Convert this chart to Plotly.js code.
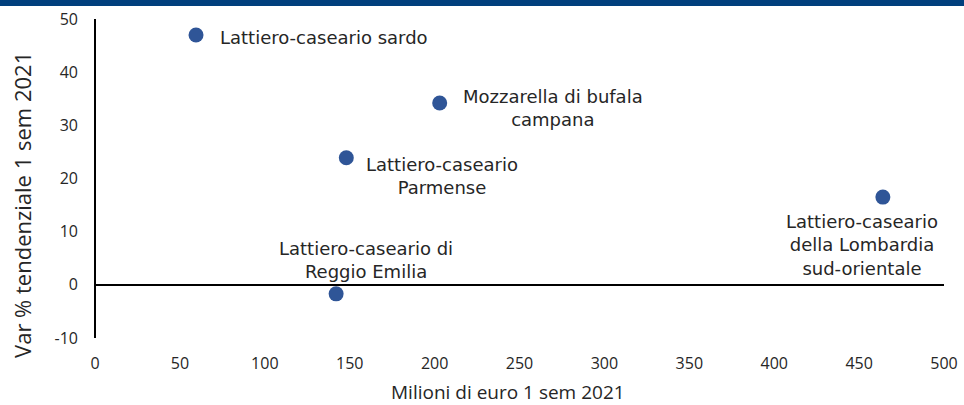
<!DOCTYPE html>
<html>
<head>
<meta charset="utf-8">
<script src="https://cdn.plot.ly/plotly-3.0.1.min.js"></script>
<style>
  html, body { margin: 0; padding: 0; background: #fff; }
  #bar { position: absolute; left: 0; top: 0; width: 964px; height: 6px; background: #013f7d; z-index: 10; }
  #chart { width: 964px; height: 405px; }
</style>
</head>
<body>
<div id="bar"></div>
<div id="chart"></div>
<script>
(function () {
    // Dati: fatturato (milioni di euro) e variazione % tendenziale, 1 sem 2021
    const distretti = [
        'Lattiero-caseario sardo',
        'Mozzarella di bufala<br>campana',
        'Lattiero-caseario<br>Parmense',
        'Lattiero-caseario di<br>Reggio Emilia',
        'Lattiero-caseario<br>della Lombardia<br>sud-orientale'
    ];
    const milioni = [59.5, 203, 148, 142, 464];
    const varPerc = [47.0, 34.2, 23.9, -1.7, 16.5];

    // tacche asse y (con trattino semplice come nell'originale)
    const yTickVals = [-10, 0, 10, 20, 30, 40, 50];
    const yTickText = ['-10', '0', '10', '20', '30', '40', '50'];

    const titoloX = 'Milioni di euro 1 sem 2021';
    const titoloY = 'Var % tendenziale 1 sem 2021';

    // posizione delle etichette rispetto al punto (pixel)
    const etichette = [
        { xanchor: 'left', ax: 22, ay: 3 },
        { xanchor: 'center', ax: 113, ay: 5 },
        { xanchor: 'center', ax: 96, ay: 18 },
        { xanchor: 'center', ax: 30, ay: -34 },
        { xanchor: 'center', ax: -21, ay: 48 }
    ];

    const font = '"DejaVu Sans", "Open Sans", sans-serif';
    const fontTicks = '"Open Sans", Lato, sans-serif';
    const grigio = '#262626';

    const trace = {
        x: milioni,
        y: varPerc,
        mode: 'markers',
        type: 'scatter',
        marker: { color: '#2f5597', size: 15 },
        hoverinfo: 'skip'
    };

    const annotations = distretti.map(function (t, i) {
        return {
            x: milioni[i],
            y: varPerc[i],
            xref: 'x',
            yref: 'y',
            text: t,
            showarrow: true,
            arrowcolor: 'rgba(0,0,0,0)',
            ax: etichette[i].ax,
            ay: etichette[i].ay,
            xanchor: etichette[i].xanchor,
            yanchor: 'middle',
            align: 'center',
            font: { family: font, size: 18, color: grigio }
        };
    });

    // titoli degli assi come annotazioni, per posizionarli come nell'originale
    annotations.push({
        xref: 'paper', yref: 'paper',
        x: 0.486, y: -0.169,
        xanchor: 'center', yanchor: 'middle',
        showarrow: false,
        text: titoloX,
        font: { family: fontTicks, size: 19, color: grigio }
    });
    annotations.push({
        xref: 'paper', yref: 'paper',
        x: -0.086, y: 0.417,
        xanchor: 'center', yanchor: 'middle',
        showarrow: false,
        textangle: -90,
        text: titoloY,
        font: { family: fontTicks, size: 22, color: grigio }
    });

    const layout = {
        width: 964,
        height: 405,
        margin: { l: 95, r: 20, t: 19, b: 67 },
        paper_bgcolor: '#ffffff',
        plot_bgcolor: '#ffffff',
        showlegend: false,
        font: { family: font, color: grigio },
        xaxis: {
            range: [0, 500],
            dtick: 50,
            showgrid: false,
            zeroline: true,
            zerolinecolor: '#000000',
            zerolinewidth: 2,
            ticks: '',
            ticklabelstandoff: 14,
            tickfont: { family: fontTicks, size: 16, color: grigio }
        },
        yaxis: {
            range: [-10, 50],
            tickvals: yTickVals,
            ticktext: yTickText,
            showgrid: false,
            zeroline: true,
            zerolinecolor: '#000000',
            zerolinewidth: 2,
            ticks: '',
            ticklabelstandoff: 16,
            tickfont: { family: fontTicks, size: 16, color: grigio }
        },
        annotations: annotations
    };

    Plotly.newPlot('chart', [trace], layout, { displayModeBar: false, staticPlot: true });
})();
</script>
</body>
</html>
